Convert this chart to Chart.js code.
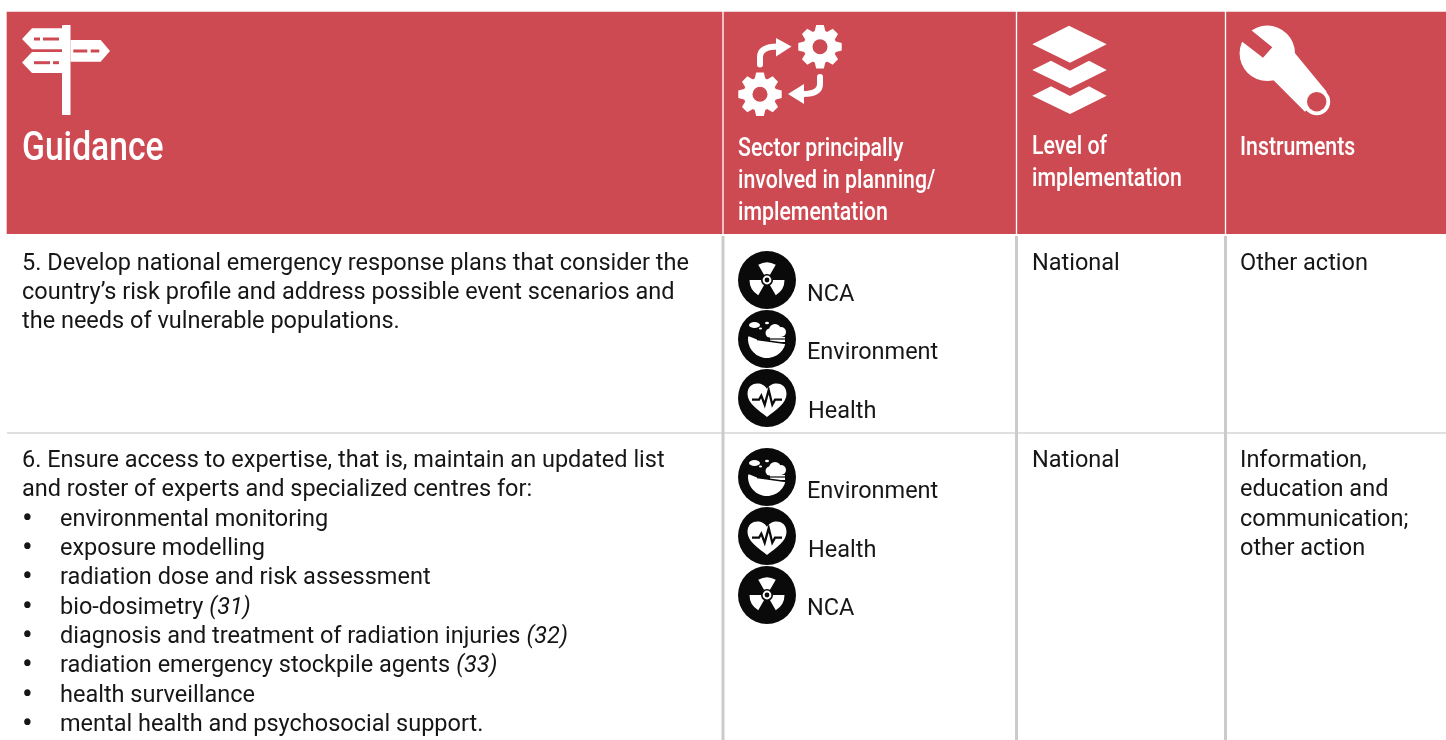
<!DOCTYPE html>
<html>
<head>
<meta charset="utf-8">
<title>Guidance</title>
<script src="https://cdn.jsdelivr.net/npm/chart.js@4/dist/chart.umd.js"></script>
<style>
html, body { margin: 0; padding: 0; background: #fff; }
canvas { display: block; }
</style>
</head>
<body>
<canvas id="tabela" width="1446" height="740"></canvas>
<script>
// table content
const headers = ['Guidance', 'Sector principally', 'involved in planning/', 'implementation', 'Level of', 'implementation', 'Instruments'];
const headerX = [22, 738, 738, 738, 1032, 1032, 1240];
const headerY = [160, 156, 188, 220, 154, 186, 155];
const headerSize = [41, 26, 26, 26, 26, 26, 26];

const row5Guidance = [
    '5. Develop national emergency response plans that consider the',
    'country\u2019s risk profile and address possible event scenarios and',
    'the needs of vulnerable populations.'
];
const row5GuidanceY = [270, 299, 328];

const row6Guidance = [
    '6. Ensure access to expertise, that is, maintain an updated list',
    'and roster of experts and specialized centres for:'
];
const row6GuidanceY = [467, 496];

const row6Bullets = [
    'environmental monitoring',
    'exposure modelling',
    'radiation dose and risk assessment',
    'bio-dosimetry',
    'diagnosis and treatment of radiation injuries',
    'radiation emergency stockpile agents',
    'health surveillance',
    'mental health and psychosocial support.'
];
const row6Refs = ['', '', '', '(31)', '(32)', '(33)', '', ''];
const row6BulletY = [526, 555, 584, 614, 643, 672, 702, 731];

const sectorNames = ['NCA', 'Environment', 'Health', 'Environment', 'Health', 'NCA'];
const sectorX = [807, 807, 808, 807, 808, 807];
const sectorY = [301, 359, 418, 498, 557, 615];
const iconY = [280, 339, 398, 477, 536, 595];

const levelText = ['National', 'National'];
const levelY = [270, 467];
const instrumentText = ['Other action', 'Information,', 'education and', 'communication;', 'other action'];
const instrumentY = [270, 467, 496, 526, 555];

const colLeft = [7, 724, 1017.5, 1226.5];
const colRight = [722, 1015.5, 1224.5, 1446];
const ruleX = [723, 1016.5, 1225.5];

const vermelho = '#CE4A53';
const cinza = '#CBCBCB';
const fonteTexto = 'Roboto';
const fonteTitulo = 'Roboto';
const aperto = 0.82; // the header type is condensed

// icons, each one drawn on its own small canvas and used as a pointStyle
function novoIcone(w, h, desenho) {
    const c = document.createElement('canvas');
    c.width = w;
    c.height = h;
    const g = c.getContext('2d');
    desenho(g);
    return c;
}

function poligono(g, pts) {
    g.beginPath();
    pts.forEach((p, i) => i ? g.lineTo(p[0], p[1]) : g.moveTo(p[0], p[1]));
    g.closePath();
    g.fill();
}

function engrenagem(g, x, y) {
    g.save();
    g.translate(x, y);
    g.fillStyle = '#fff';
    g.beginPath();
    g.arc(0, 0, 16.5, 0, Math.PI * 2);
    g.fill();
    for (let i = 0; i < 8; i++) {
        g.save();
        g.rotate(i * Math.PI / 4);
        g.beginPath();
        g.moveTo(-5.5, -15);
        g.lineTo(-3.8, -21.7);
        g.lineTo(3.8, -21.7);
        g.lineTo(5.5, -15);
        g.closePath();
        g.fill();
        g.restore();
    }
    g.globalCompositeOperation = 'destination-out';
    g.beginPath();
    g.arc(0, 0, 7.5, 0, Math.PI * 2);
    g.fill();
    g.restore();
}

const iconePlaca = novoIcone(90, 92, g => {
    g.translate(-21, -24);
    g.fillStyle = '#fff';
    poligono(g, [[62, 25.5], [64, 25], [70.5, 25], [70.5, 115], [62, 115]]);
    poligono(g, [[22, 39], [32, 28.3], [62, 28.3], [62, 49.3], [32, 49.3]]);
    poligono(g, [[70.5, 40], [100.7, 40], [110, 51], [100.7, 61.7], [70.5, 61.7]]);
    poligono(g, [[22, 62.6], [32, 52], [62, 52], [62, 73], [32, 73]]);
    g.fillStyle = vermelho;
    [[34, 37.5, 6], [43, 37.5, 16], [73.3, 49.5, 14], [90.7, 49.5, 8.6], [34, 61.2, 16], [53, 61.2, 6]].forEach(d => {
        g.fillRect(d[0], d[1], d[2], 3);
    });
});

const iconeSetor = novoIcone(108, 96, g => {
    g.translate(-737, -22);
    engrenagem(g, 820, 46.7);
    engrenagem(g, 760, 94.3);
    g.strokeStyle = '#fff';
    g.fillStyle = '#fff';
    g.lineWidth = 6;
    g.lineCap = 'round';
    g.beginPath();
    g.moveTo(760, 64.5);
    g.lineTo(760, 57);
    g.quadraticCurveTo(760, 46.5, 778, 46.5);
    g.stroke();
    poligono(g, [[776, 38], [791.5, 46.5], [776, 56.5]]);
    g.beginPath();
    g.moveTo(820, 77);
    g.lineTo(820, 84);
    g.quadraticCurveTo(820, 94, 803, 94);
    g.stroke();
    poligono(g, [[804, 84], [788, 94], [804, 104]]);
});

const iconeCamadas = novoIcone(78, 92, g => {
    g.translate(-1031, -24);
    g.fillStyle = '#fff';
    poligono(g, [[1032.3, 44.3], [1069, 25.7], [1106.7, 44.3], [1070, 62.7]]);
    poligono(g, [[1032.3, 70], [1051, 60.7], [1070, 70.7], [1089, 60.7], [1106.7, 70], [1070, 88.3]]);
    poligono(g, [[1032.3, 95.7], [1051, 86.3], [1070, 96], [1089, 86.3], [1106.7, 95.7], [1070, 114]]);
});

const iconeChave = novoIcone(96, 94, g => {
    g.translate(-1238, -23);
    g.fillStyle = '#fff';
    g.beginPath();
    g.arc(1267.3, 53.3, 27.7, 0, Math.PI * 2);
    g.fill();
    poligono(g, [[1273.3, 80], [1295, 53.3], [1326.7, 91.7], [1305, 111.7]]);
    g.beginPath();
    g.arc(1316.7, 101.7, 13.5, 0, Math.PI * 2);
    g.fill();
    g.globalCompositeOperation = 'destination-out';
    poligono(g, [[1251, 30], [1272.3, 47.3], [1263, 57.7], [1240, 40], [1236, 22], [1255, 22]]);
    g.beginPath();
    g.arc(1316.7, 101.7, 9.7, 0, Math.PI * 2);
    g.fill();
});

function discoPreto(desenho) {
    return novoIcone(60, 60, g => {
        g.translate(30, 30);
        g.fillStyle = '#0a0a0a';
        g.beginPath();
        g.arc(0, 0, 29, 0, Math.PI * 2);
        g.fill();
        g.fillStyle = '#fff';
        g.strokeStyle = '#0a0a0a';
        desenho(g);
    });
}

const iconeNca = discoPreto(g => {
    [-90, 30, 150].forEach(a => {
        const ini = (a - 30) * Math.PI / 180;
        const fim = (a + 30) * Math.PI / 180;
        g.beginPath();
        g.arc(0, 0, 17.5, ini, fim);
        g.arc(0, 0, 6, fim, ini, true);
        g.closePath();
        g.fill();
    });
    g.beginPath();
    g.arc(0, 0, 4.4, 0, Math.PI * 2);
    g.fill();
    g.fillStyle = '#0a0a0a';
    g.beginPath();
    g.arc(0, 0, 2.4, 0, Math.PI * 2);
    g.fill();
});

const iconeAmbiente = discoPreto(g => {
    // ground
    g.beginPath();
    g.moveTo(-17.5, -2.5);
    g.lineTo(-10, 0.5);
    g.lineTo(18.5, 4.5);
    g.arc(0, 0, 19, 0.24, Math.PI + 0.13);
    g.closePath();
    g.fill();
    // tree
    [[8, -9, 6], [3, -6, 4.5], [14, -7, 5], [9, -5, 5]].forEach(c => {
        g.beginPath();
        g.arc(c[0], c[1], c[2], 0, Math.PI * 2);
        g.fill();
    });
    g.fillRect(3, -2, 15, 5);
    // cloud
    g.beginPath();
    g.ellipse(-12.5, -14, 5.5, 3, 0, 0, Math.PI * 2);
    g.fill();
    g.beginPath();
    g.ellipse(0, -16, 2, 1.2, 0, 0, Math.PI * 2);
    g.fill();
    g.beginPath();
    g.ellipse(-6.5, -10.5, 1.6, 1, 0, 0, Math.PI * 2);
    g.fill();
    g.lineWidth = 1.6;
    g.beginPath();
    g.moveTo(-10, 0.5);
    g.lineTo(19, 4.5);
    g.stroke();
    g.lineWidth = 1.2;
    g.beginPath();
    g.moveTo(3, 0);
    g.lineTo(18, 0);
    g.stroke();
});

const iconeSaude = discoPreto(g => {
    g.beginPath();
    g.moveTo(0, 19);
    g.bezierCurveTo(-9, 12, -19.5, 5, -19.5, -4);
    g.bezierCurveTo(-19.5, -17, -4, -17, 0, -9);
    g.bezierCurveTo(4, -17, 19.5, -17, 19.5, -4);
    g.bezierCurveTo(19.5, 5, 9, 12, 0, 19);
    g.closePath();
    g.fill();
    g.lineWidth = 2.3;
    g.beginPath();
    [[-15, 1.7], [-8, 1.7], [-5.7, -2.3], [-2.3, 6.7], [1.7, -8], [5.3, 6.7], [8, 1.7], [15, 1.7]].forEach((p, i) => {
        i ? g.lineTo(p[0], p[1]) : g.moveTo(p[0], p[1]);
    });
    g.stroke();
});

const iconesSetor = { NCA: iconeNca, Environment: iconeAmbiente, Health: iconeSaude };
const iconesTopo = [iconePlaca, iconeSetor, iconeCamadas, iconeChave];
const iconesTopoX = [66, 791, 1070, 1286];
const iconesTopoY = [70, 70, 70, 70];

// text goes through the same scales as the marks
const pluginTexto = {
    id: 'pluginTexto',
    afterDatasetsDraw(chart) {
        const g = chart.ctx;
        const sx = chart.scales.x;
        const sy = chart.scales.y;

        function escreve(txt, x, y, fonte, cor) {
            g.font = fonte;
            g.fillStyle = cor;
            g.fillText(txt, sx.getPixelForValue(x), sy.getPixelForValue(y));
        }

        g.save();
        g.textBaseline = 'alphabetic';
        g.textAlign = 'left';

        headers.forEach((t, i) => {
            g.save();
            g.translate(sx.getPixelForValue(headerX[i]), sy.getPixelForValue(headerY[i]));
            g.scale(aperto, 1);
            g.font = '500 ' + headerSize[i] + 'px ' + fonteTitulo;
            g.fillStyle = '#fff';
            g.fillText(t, 0, 0);
            g.restore();
        });

        const corpo = '23.5px ' + fonteTexto;
        const preto = '#161616';
        row5Guidance.forEach((t, i) => escreve(t, 22, row5GuidanceY[i], corpo, preto));
        row6Guidance.forEach((t, i) => escreve(t, 22, row6GuidanceY[i], corpo, preto));
        row6Bullets.forEach((t, i) => {
            escreve('\u2022', 22, row6BulletY[i] + 2, '32px ' + fonteTexto, preto);
            escreve(t, 60, row6BulletY[i], corpo, preto);
            if (row6Refs[i]) {
                g.font = corpo;
                const w = g.measureText(t).width + 6;
                escreve(row6Refs[i], 60 + w, row6BulletY[i], 'italic ' + corpo, preto);
            }
        });
        sectorNames.forEach((t, i) => escreve(t, sectorX[i], sectorY[i], corpo, preto));
        levelText.forEach((t, i) => escreve(t, 1032, levelY[i], corpo, preto));
        instrumentText.forEach((t, i) => escreve(t, 1240, instrumentY[i], corpo, preto));
        g.restore();
    }
};

const celulasTopo = colLeft.map((l, i) => ({
    type: 'bar',
    data: [{ x: (l + colRight[i]) / 2, y: [12, 233.7] }],
    backgroundColor: vermelho,
    barThickness: colRight[i] - l,
    grouped: false,
    order: 5
}));

const linhasVerticais = ruleX.map(x => ({
    type: 'line',
    data: [{ x: x, y: 236 }, { x: x, y: 740 }],
    borderColor: cinza,
    borderWidth: 3,
    pointRadius: 0,
    order: 4
}));

const linhaHorizontal = {
    type: 'line',
    data: [{ x: 7, y: 433 }, { x: 1446, y: 433 }],
    borderColor: '#D6D6D6',
    borderWidth: 1.5,
    pointRadius: 0,
    order: 4
};

const iconesCabecalho = {
    type: 'scatter',
    data: iconesTopoX.map((x, i) => ({ x: x, y: iconesTopoY[i] })),
    pointStyle: iconesTopo,
    pointRadius: 10,
    clip: false,
    order: 1
};

const iconesLinhas = {
    type: 'scatter',
    data: sectorNames.map((s, i) => ({ x: 767, y: iconY[i] })),
    pointStyle: sectorNames.map(s => iconesSetor[s]),
    pointRadius: 10,
    order: 1
};

new Chart(document.getElementById('tabela'), {
    type: 'bar',
    data: { datasets: [...celulasTopo, ...linhasVerticais, linhaHorizontal, iconesCabecalho, iconesLinhas] },
    options: {
        responsive: false,
        animation: false,
        layout: { padding: 0, autoPadding: false },
        plugins: {
            legend: { display: false },
            title: { display: false },
            tooltip: { enabled: false }
        },
        scales: {
            x: { type: 'linear', min: 0, max: 1446, offset: false, display: false },
            y: { type: 'linear', min: 0, max: 740, reverse: true, display: false }
        }
    },
    plugins: [pluginTexto]
});
</script>
</body>
</html>
